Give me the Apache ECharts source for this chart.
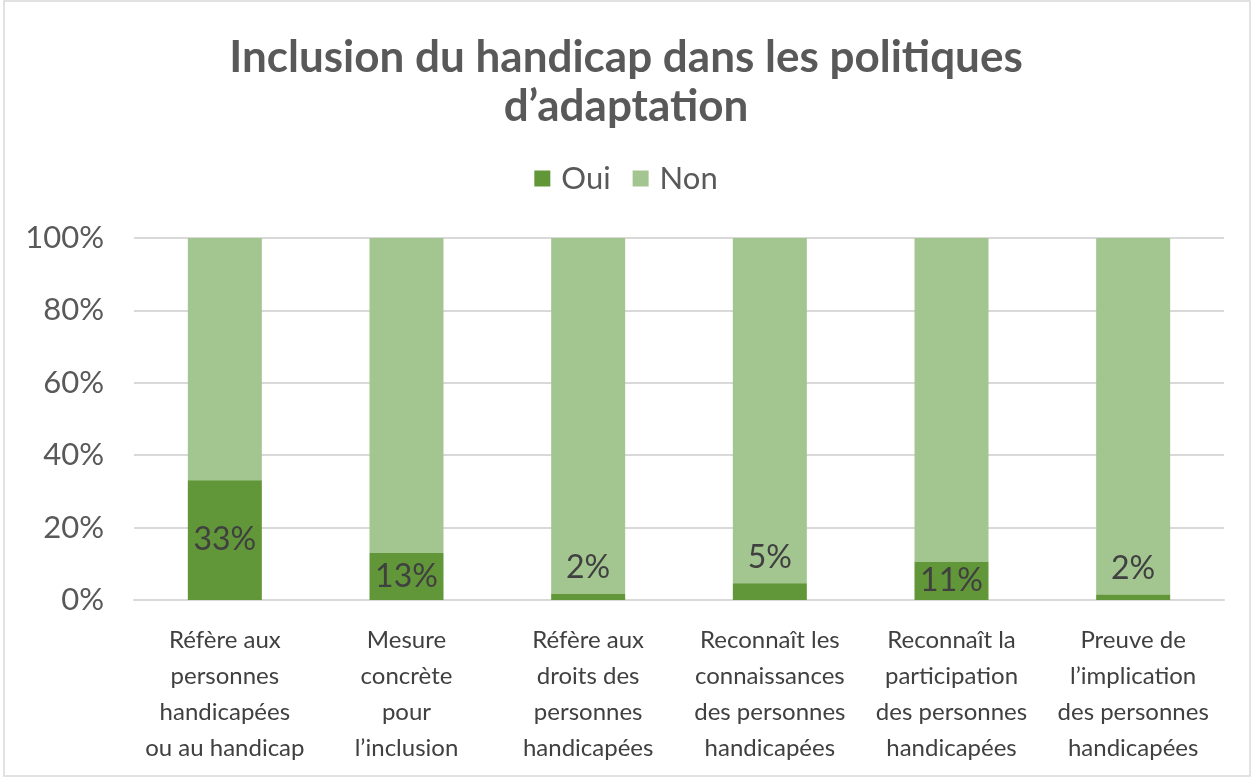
<!DOCTYPE html>
<html>
<head>
<meta charset="utf-8">
<script src="https://cdn.jsdelivr.net/npm/echarts@6/dist/echarts.min.js"></script>
<style>
  html, body { margin: 0; padding: 0; background: #fff; }
  #chart { width: 1252px; height: 778px; }
</style>
</head>
<body>
<div id="chart"></div>
<script>
// 类别（x 轴标签）
var categories = [
    'Réfère aux\npersonnes\nhandicapées\nou au handicap',
    'Mesure\nconcrète\npour\nl’inclusion',
    'Réfère aux\ndroits des\npersonnes\nhandicapées',
    'Reconnaît les\nconnaissances\ndes personnes\nhandicapées',
    'Reconnaît la\nparticipation\ndes personnes\nhandicapées',
    'Preuve de\nl’implication\ndes personnes\nhandicapées'
];
// 数据（百分比）
var ouiValues = [33.1, 13.0, 1.7, 4.6, 10.6, 1.5];
var nonValues = [66.9, 87.0, 98.3, 95.4, 89.4, 98.5];
var yTicks = [0, 20, 40, 60, 80, 100];

var textColor = '#595959';
var font = 'Lato, "Open Sans", sans-serif';

var chart = echarts.init(document.getElementById('chart'));

var option = {
    backgroundColor: '#fff',
    textStyle: { fontFamily: font },
    title: {
        text: 'Inclusion du handicap dans les politiques\nd’adaptation',
        left: 'center',
        top: 28,
        textStyle: {
            fontFamily: font,
            fontSize: 44,
            fontWeight: 'bold',
            color: textColor,
            lineHeight: 49
        }
    },
    legend: {
        data: ['Oui', 'Non'],
        left: 'center',
        top: 158,
        itemWidth: 16,
        itemHeight: 16,
        itemGap: 22,
        icon: 'rect',
        textStyle: {
            fontFamily: font,
            fontSize: 31,
            color: textColor,
            padding: [0, 0, 0, 6]
        }
    },
    grid: {
        left: 134,
        right: 28,
        top: 238,
        bottom: 178
    },
    xAxis: {
        type: 'category',
        data: categories,
        axisLine: { lineStyle: { color: '#d9d9d9', width: 2 } },
        axisTick: { show: false },
        axisLabel: {
            interval: 0,
            margin: 22,
            fontFamily: font,
            fontSize: 24,
            lineHeight: 36,
            color: '#404040'
        }
    },
    yAxis: {
        type: 'value',
        min: yTicks[0],
        max: yTicks[yTicks.length - 1],
        interval: 20,
        axisLine: { show: false },
        axisTick: { show: false },
        splitLine: { lineStyle: { color: '#d9d9d9', width: 2 } },
        axisLabel: {
            margin: 30,
            fontFamily: font,
            fontSize: 31,
            color: textColor,
            formatter: '{value}%'
        }
    },
    series: [
        {
            name: 'Oui',
            type: 'bar',
            stack: 'total',
            barWidth: 74,
            itemStyle: { color: '#619738' },
            data: ouiValues.map(function (v) {
                // 小数值标签放在柱子上方
                return {
                    value: v,
                    label: v < 8 ? { position: 'top', distance: 10 } : { position: 'inside' }
                };
            }),
            label: {
                show: true,
                fontFamily: font,
                fontSize: 32,
                color: '#404040',
                formatter: function (p) { return Math.round(p.value) + '%'; }
            },
            z: 3
        },
        {
            name: 'Non',
            type: 'bar',
            stack: 'total',
            barWidth: 74,
            itemStyle: { color: '#a3c590' },
            data: nonValues,
            z: 2
        }
    ],
    graphic: [{
        type: 'rect',
        shape: { x: 4, y: 1, width: 1246, height: 775 },
        style: { fill: 'none', stroke: '#d9d9d9', lineWidth: 1.5 },
        silent: true
    }]
};

chart.setOption(option);
</script>
</body>
</html>
